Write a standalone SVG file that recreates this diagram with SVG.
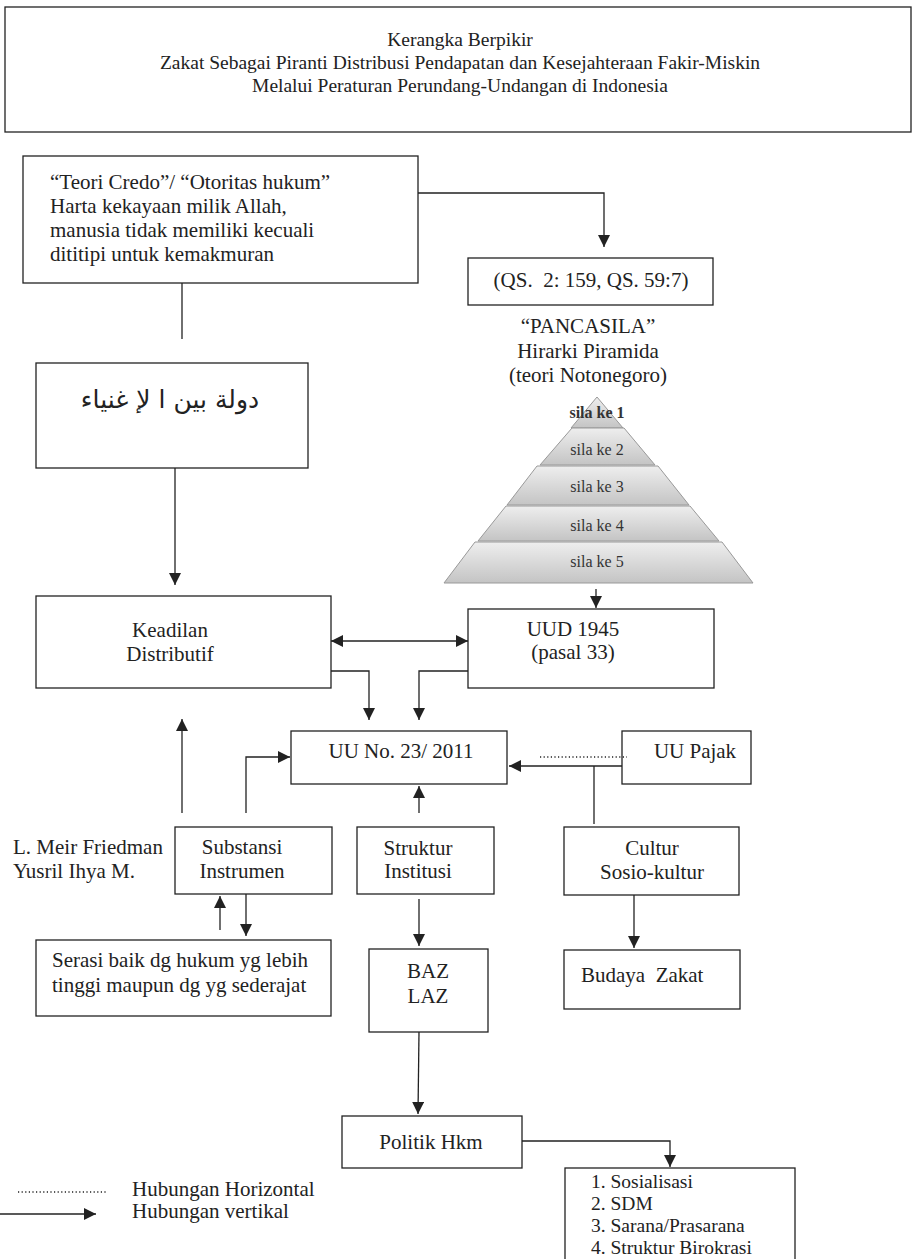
<svg xmlns="http://www.w3.org/2000/svg" width="914" height="1259" viewBox="0 0 914 1259">
<style>
.b{fill:#fff;stroke:#222;stroke-width:1.3}
.t{font-family:"Liberation Serif","Times New Roman",serif;font-size:21px;fill:#222}
.c{text-anchor:middle}
.ti{font-size:19.5px}
.li{font-size:19.5px}
.ln{fill:none;stroke:#222;stroke-width:1.3}
.ar{marker-end:url(#ah)}
.dot{fill:none;stroke:#222;stroke-width:1.3;stroke-dasharray:1.2 2.4}
.py{stroke:#999;stroke-width:1;fill:url(#pg)}
.pl{font-family:"Liberation Serif","Times New Roman",serif;font-size:16px;fill:#333;text-anchor:middle}
.ar2{font-family:"DejaVu Sans",sans-serif;font-size:25px;fill:#222;text-anchor:middle}
</style>
<defs>
<marker id="ah" markerWidth="12" markerHeight="12" refX="12" refY="6" orient="auto-start-reverse" markerUnits="userSpaceOnUse"><path d="M0,0 L12,6 L0,12 z" fill="#222"/></marker>
<linearGradient id="pg" x1="0" y1="0" x2="0" y2="1"><stop offset="0" stop-color="#eeeeee"/><stop offset="1" stop-color="#c4c4c4"/></linearGradient>
</defs>

<g id="title">
<rect class="b" x="5" y="7" width="906" height="125"/>
<text class="t c ti" x="460" y="46">Kerangka Berpikir</text>
<text class="t c ti" x="460" y="69">Zakat Sebagai Piranti Distribusi Pendapatan dan Kesejahteraan Fakir-Miskin</text>
<text class="t c ti" x="460" y="92">Melalui Peraturan Perundang-Undangan di Indonesia</text>
</g>

<g id="teori">
<rect class="b" x="23" y="156" width="395" height="127"/>
<text class="t" x="50" y="189">“Teori Credo”/ “Otoritas hukum”</text>
<text class="t" x="50" y="213">Harta kekayaan milik Allah,</text>
<text class="t" x="50" y="237">manusia tidak memiliki kecuali</text>
<text class="t" x="50" y="261">dititipi untuk kemakmuran</text>
</g>

<g id="qs">
<rect class="b" x="468" y="258" width="245" height="47"/>
<text class="t c" x="591" y="287" xml:space="preserve">(QS.  2: 159, QS. 59:7)</text>
</g>

<g id="pancasila">
<text class="t c" x="588" y="333">“PANCASILA”</text>
<text class="t c" x="588" y="358">Hirarki Piramida</text>
<text class="t c" x="588" y="382">(teori Notonegoro)</text>
<polygon class="py" points="597,397 623,428 571,428"/>
<polygon class="py" points="572,428 624,428 655,465 540,465"/>
<polygon class="py" points="537,466 658,466 689,505 507,505"/>
<polygon class="py" points="506,506 690,506 719,541 478,541"/>
<polygon class="py" points="475,542 722,542 753,583 444,583"/>
<text class="pl" x="597" y="418" style="font-weight:bold">sila ke 1</text>
<text class="pl" x="597" y="455">sila ke 2</text>
<text class="pl" x="597" y="492">sila ke 3</text>
<text class="pl" x="597" y="531">sila ke 4</text>
<text class="pl" x="597" y="567">sila ke 5</text>
</g>

<g id="arabic">
<rect class="b" x="36" y="363" width="272" height="105"/>
<text class="ar2" x="170" y="408">دولة بين ا لإ غنياء</text>
</g>

<g id="keadilan">
<rect class="b" x="36" y="596" width="295" height="92"/>
<text class="t c" x="170" y="637">Keadilan</text>
<text class="t c" x="170" y="661">Distributif</text>
</g>

<g id="uud">
<rect class="b" x="468" y="609" width="246" height="79"/>
<text class="t c" x="573" y="636">UUD 1945</text>
<text class="t c" x="573" y="659">(pasal 33)</text>
</g>

<g id="uu23">
<rect class="b" x="291" y="731" width="216" height="53"/>
<text class="t c" x="401" y="758">UU No. 23/ 2011</text>
</g>

<g id="uupajak">
<rect class="b" x="622" y="731" width="129" height="53"/>
<text class="t c" x="695" y="758">UU Pajak</text>
</g>

<g id="friedman">
<text class="t" x="13" y="854">L. Meir Friedman</text>
<text class="t" x="13" y="878">Yusril Ihya M.</text>
</g>

<g id="substansi">
<rect class="b" x="175" y="827" width="157" height="67"/>
<text class="t c" x="242" y="854">Substansi</text>
<text class="t c" x="242" y="878">Instrumen</text>
</g>

<g id="struktur">
<rect class="b" x="357" y="827" width="137" height="67"/>
<text class="t c" x="418" y="855">Struktur</text>
<text class="t c" x="418" y="878">Institusi</text>
</g>

<g id="cultur">
<rect class="b" x="564" y="827" width="175" height="68"/>
<text class="t c" x="652" y="855">Cultur</text>
<text class="t c" x="652" y="879">Sosio-kultur</text>
</g>

<g id="serasi">
<rect class="b" x="36" y="940" width="295" height="76"/>
<text class="t" x="52" y="967">Serasi baik dg hukum yg lebih</text>
<text class="t" x="52" y="992">tinggi maupun dg yg sederajat</text>
</g>

<g id="baz">
<rect class="b" x="369" y="949" width="119" height="83"/>
<text class="t c" x="428" y="978">BAZ</text>
<text class="t c" x="428" y="1003">LAZ</text>
</g>

<g id="budaya">
<rect class="b" x="564" y="950" width="176" height="59"/>
<text class="t" x="581" y="982" xml:space="preserve">Budaya  Zakat</text>
</g>

<g id="politik">
<rect class="b" x="342" y="1116" width="180" height="52"/>
<text class="t c" x="431" y="1149">Politik Hkm</text>
</g>

<g id="list">
<rect class="b" x="565" y="1168" width="230" height="100"/>
<text class="t li" x="591" y="1188">1. Sosialisasi</text>
<text class="t li" x="591" y="1210">2. SDM</text>
<text class="t li" x="591" y="1232">3. Sarana/Prasarana</text>
<text class="t li" x="591" y="1254">4. Struktur Birokrasi</text>
</g>

<g id="legend">
<path class="dot" d="M18,1192 H106"/>
<text class="t" x="132" y="1196">Hubungan Horizontal</text>
<path class="ln ar" d="M0,1214 H96"/>
<text class="t" x="132" y="1218">Hubungan vertikal</text>
</g>

<g id="connectors">
<path class="ln ar" d="M418,193 H604 V247"/>
<path class="ln" d="M182,283 V339"/>
<path class="ln ar" d="M175,468 V585"/>
<path class="ln ar" d="M596,589 V608"/>
<path class="ln ar" d="M331,641 H468" marker-start="url(#ah)"/>
<path class="ln ar" d="M331,671 H369 V720"/>
<path class="ln ar" d="M468,671 H419 V720"/>
<path class="ln ar" d="M182,813 V719"/>
<path class="ln ar" d="M246,813 V757 H290"/>
<path class="ln ar" d="M622,766 H509"/>
<path class="dot" d="M540,757 H627"/>
<path class="ln" d="M594,766 V824"/>
<path class="ln ar" d="M419,813 V786"/>
<path class="ln ar" d="M220,930 V896"/>
<path class="ln ar" d="M246,894 V936"/>
<path class="ln ar" d="M419,899 V946"/>
<path class="ln ar" d="M634,895 V948"/>
<path class="ln ar" d="M419,1032 L418,1114"/>
<path class="ln ar" d="M522,1141 H670 V1167"/>
</g>
</svg>
